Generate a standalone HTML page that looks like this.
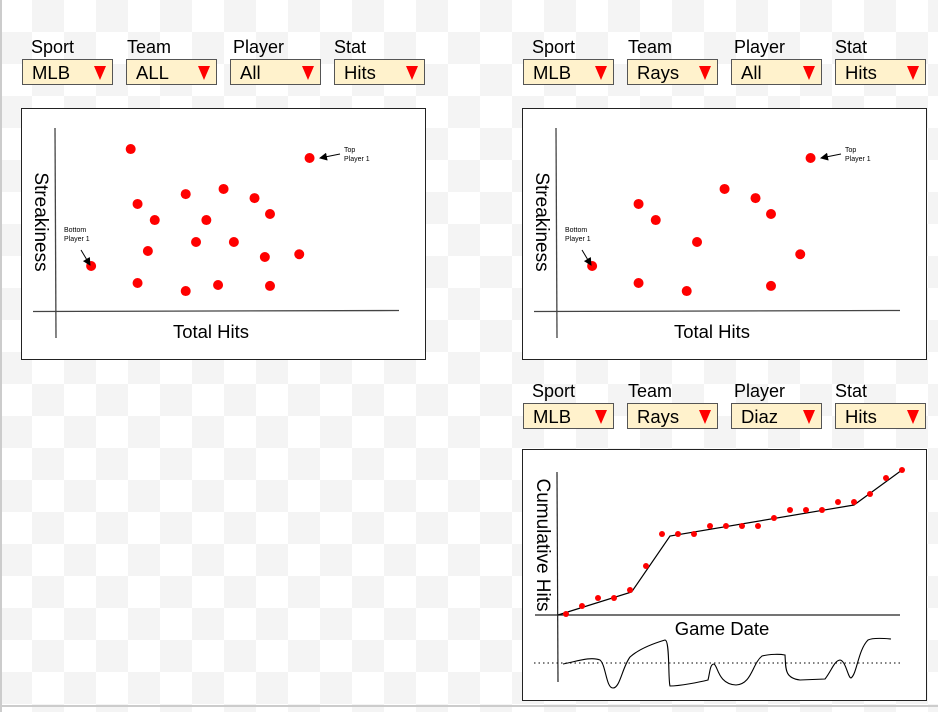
<!DOCTYPE html>
<html><head><meta charset="utf-8">
<style>
html,body{margin:0;padding:0}
body{width:938px;height:712px;position:relative;overflow:hidden;font-family:"Liberation Sans",sans-serif;
background-color:#fff;
background-image:linear-gradient(45deg,#f4f4f4 25%,transparent 25%,transparent 75%,#f4f4f4 75%),linear-gradient(45deg,#f4f4f4 25%,transparent 25%,transparent 75%,#f4f4f4 75%);
background-size:64px 64px;background-position:0 0,32px 32px;}
.lbl{position:absolute;font-size:18px;color:#000}
.dd{position:absolute;width:89px;height:24px;background:#fff2cc;border:1px solid #555;box-sizing:content-box;font-size:18.5px}
.dd span{position:absolute;left:9px;top:2px}
.dd i{position:absolute;right:6px;top:6px;width:0;height:0;border-left:6px solid transparent;border-right:6px solid transparent;border-top:14px solid #f00}
.panel{position:absolute;background:#fff;border:1px solid #222}
svg{position:absolute;left:0;top:0}
</style></head><body>
<div style="position:absolute;left:0;top:0;width:2px;height:712px;background:#ccc"></div>
<div style="position:absolute;left:0;top:705px;width:938px;height:2px;background:#ccc"></div>

<div id="filters"></div>

<div class="panel" style="left:21px;top:108px;width:403px;height:250px"></div>
<div class="panel" style="left:522px;top:108px;width:403px;height:250px"></div>
<div class="panel" style="left:522px;top:449px;width:403px;height:250px"></div>

<svg id="chart" width="938" height="712"></svg>

<script>
// ---- filter bars ----
const filterRows = [
  {x:22,y:59,vals:["MLB","ALL","All","Hits"]},
  {x:523,y:59,vals:["MLB","Rays","All","Hits"]},
  {x:523,y:403,vals:["MLB","Rays","Diaz","Hits"]}
];
const filterLabels=["Sport","Team","Player","Stat"];
const labelOffsets=[9,1,3,0];
const fwrap=document.getElementById('filters');
filterRows.forEach((r,ri)=>{
  r.vals.forEach((v,i)=>{
    const l=document.createElement('div');l.className='lbl';
    l.style.left=(r.x+labelOffsets[i]+i*104)+'px';l.style.top=(r.y-22)+'px';l.textContent=filterLabels[i];
    
    
    fwrap.appendChild(l);
    const d=document.createElement('div');d.className='dd';
    d.style.left=(r.x+i*104)+'px';d.style.top=r.y+'px';
    d.innerHTML='<span>'+v+'</span><i></i>';
    
    
    fwrap.appendChild(d);
  });
});

// ---- scatter data ----
const allHits=[22,74,24,29,38,49,44,58,62.5,27,41,52,61,71,10.5,24,38,47.4,62.5];
const allStreak=[88.5,83.6,58.5,49.7,63.9,66.7,49.7,61.7,53,32.8,37.7,37.7,29.5,31,24.6,15.3,10.9,14.2,13.7];
const raysHits=[24,29,49,58,62.5,41,71,10.5,24,38,62.5,74];
const raysStreak=[58.5,49.7,66.7,61.7,53,37.7,31,24.6,15.3,10.9,13.7,83.6];
// ---- cumulative data ----
const gameIdx=[0,1,2,3,4,5,6,7,8,9,10,11,12,13,14,15,16,17,18,19,20,21];
const cumHits=[1,9,17,17,25,49,81,81,81,89,89,89,89,97,105,105,105,113,113,121,137,145];
const trendIdx=[-0.5,4.1,6.5,18,21];
const trendHits=[0,23,79,110,145];

const svg=document.getElementById('chart');
const NS='http://www.w3.org/2000/svg';
function mk(tag,attrs,parent){const e=document.createElementNS(NS,tag);for(const k in attrs)e.setAttribute(k,attrs[k]);(parent||svg).appendChild(e);return e;}

svg.innerHTML='<defs><marker id="ah" markerWidth="8" markerHeight="8" refX="7" refY="4" orient="auto"><path d="M0,0 L8,4 L0,8 Z" fill="#000"/></marker></defs>';

function scatter(ox,hits,streak,name){
  const sx=v=>ox+55+v*3.44, sy=v=>311-v*1.83;
  let a=mk('line',{x1:ox+55,y1:128,x2:ox+56,y2:338,stroke:'#444','stroke-width':1.3});
  
  
  a=mk('line',{x1:ox+33,y1:311.5,x2:ox+399,y2:310.5,stroke:'#444','stroke-width':1.3});
  
  
  let t=mk('text',{x:ox+211,y:338,'font-size':18.5,'text-anchor':'middle','font-family':'Liberation Sans, sans-serif'});t.textContent='Total Hits';
  
  
  t=mk('text',{x:0,y:0,'font-size':19,'text-anchor':'middle','font-family':'Liberation Sans, sans-serif',transform:`translate(${ox+35},222) rotate(90)`});t.textContent='Streakiness';
  
  
  hits.forEach((h,i)=>{
    const c=mk('circle',{cx:sx(h),cy:sy(streak[i]),r:5,fill:'#f00'});
    
    
  });
  t=mk('text',{x:ox+64,y:232,'font-size':7,'font-family':'Liberation Sans, sans-serif'});t.innerHTML='<tspan x="'+(ox+64)+'">Bottom</tspan><tspan x="'+(ox+64)+'" dy="9">Player 1</tspan>';
  
  
  a=mk('line',{x1:ox+81,y1:250,x2:ox+90,y2:265,stroke:'#000','stroke-width':1,'marker-end':'url(#ah)'});
  
  
  t=mk('text',{x:ox+344,y:152,'font-size':7,'font-family':'Liberation Sans, sans-serif'});t.innerHTML='<tspan x="'+(ox+344)+'">Top</tspan><tspan x="'+(ox+344)+'" dy="9">Player 1</tspan>';
  
  
  a=mk('line',{x1:ox+340,y1:154,x2:ox+320,y2:158,stroke:'#000','stroke-width':1,'marker-end':'url(#ah)'});
  
  
}
scatter(0,allHits,allStreak,'all-player');
scatter(501,raysHits,raysStreak,'rays-player');

// cumulative chart
const cx=i=>566+i*16, cy=v=>615-v;
let a=mk('line',{x1:557,y1:472,x2:558,y2:682,stroke:'#222','stroke-width':1.2});


a=mk('line',{x1:535,y1:615,x2:900,y2:615,stroke:'#222','stroke-width':1.2});


let t=mk('text',{x:722,y:635,'font-size':18.5,'text-anchor':'middle','font-family':'Liberation Sans, sans-serif'});t.textContent='Game Date';


t=mk('text',{x:0,y:0,'font-size':19,'text-anchor':'middle','font-family':'Liberation Sans, sans-serif',transform:'translate(537,545) rotate(90)'});t.textContent='Cumulative Hits';


const tl=mk('polyline',{points:trendIdx.map((v,i)=>cx(v)+','+cy(trendHits[i])).join(' '),fill:'none',stroke:'#000','stroke-width':1.2});


gameIdx.forEach((g,i)=>{
  const c=mk('circle',{cx:cx(g),cy:cy(cumHits[i]),r:3,fill:'#f00'});
  
  
});
a=mk('line',{x1:534,y1:663,x2:900,y2:663,stroke:'#000','stroke-width':1,'stroke-dasharray':'1.5,3'});


const w=mk('path',{d:'M563,664 C575,662 590,656 600,660 C606,665 606,688 613,688 C620,688 622,668 630,657 C640,648 655,643 665,640 C670,640 668,680 670,686 C680,686 700,682 708,680 C710,672 710,664 714,664 C718,666 718,684 736,685 C752,684 752,664 762,656 C770,654 780,654 785,655 C786,668 784,678 800,680 L825,679 C832,670 834,661 840,660 C846,661 848,678 851,678 C857,674 858,650 868,640 C872,638 880,638 891,639',fill:'none',stroke:'#000','stroke-width':1.1});


</script>
</body></html>
